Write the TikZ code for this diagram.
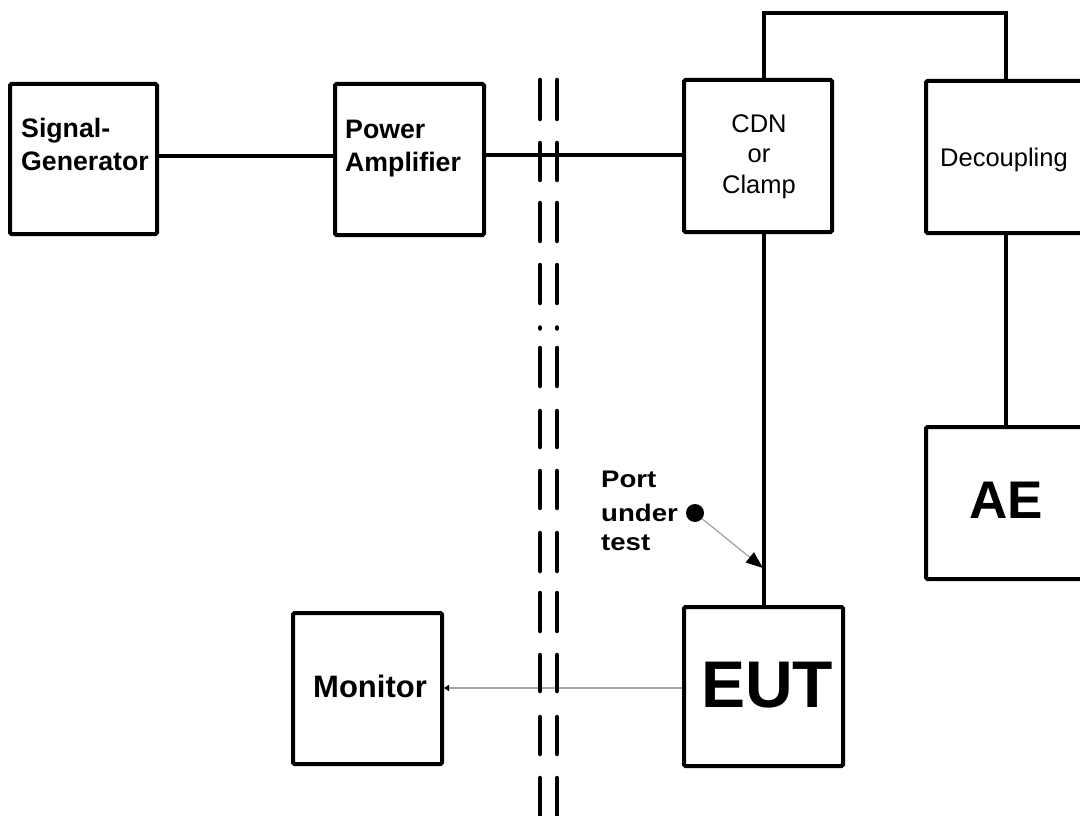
\documentclass[tikz,border=0pt]{standalone}
\usepackage{fontspec}
\setmainfont{Liberation Sans}
\newfontfamily\widesans[FakeStretch=1.15]{Liberation Sans}
\usetikzlibrary{arrows.meta,fit}
\begin{document}
\begin{tikzpicture}[x=1pt,y=-1pt,
  box/.style={draw, line width=4pt, rounded corners=1.5pt, inner sep=0pt},
  wire/.style={line width=4pt},
  thinline/.style={draw=black!35, line width=1.3pt},
  sep/.style={line width=4.5pt, line cap=round},
  bl/.style={font=\fontsize{26.7}{30}\selectfont\bfseries, inner sep=0pt},
  rg/.style={font=\fontsize{25.5}{30}\selectfont, inner sep=0pt},
  pl/.style={font=\widesans\fontsize{24}{28}\selectfont\bfseries, inner sep=0pt},
]
\useasboundingbox (0,0) rectangle (1080,816);
\clip (0,0) rectangle (1080,816);
\fill[white] (0,0) rectangle (1080,816);

% boxes
\node[box, fit={(10,84)(157,234)}] (sg) {};
\node[box, fit={(335,84)(484,235)}] (pa) {};
\node[box, fit={(684,80)(832,232)}] (cdn) {};
\node[box, fit={(926,81)(1086,233)}] (dec) {};
\node[box, fit={(926,427)(1086,579)}] (ae) {};
\node[box, fit={(684,607)(843,766)}] (eut) {};
\node[box, fit={(293,613)(442,764)}] (mon) {};

% labels
\node[bl, anchor=base west] (sg1) at (21,137) {Signal-};
\node[bl, anchor=base west] (sg2) at (21,170) {Generator};
\node[bl, anchor=base west] (pa1) at (345,139) {Power};
\node[bl, anchor=base west] (pa2) at (345,171) {Amplifier};
\node[rg, anchor=base] (cd1) at (759,132) {CDN};
\node[rg, anchor=base] (cd2) at (759,162) {or};
\node[rg, anchor=base] (cd3) at (759,193) {Clamp};
\node[rg, anchor=base] (decl) at (1004,166) {Decoupling};
\node[font=\fontsize{53}{60}\selectfont\bfseries, inner sep=0pt, anchor=base] (ael) at (1006,518) {AE};
\node[font=\fontsize{66}{70}\selectfont\bfseries, inner sep=0pt, anchor=base] (eutl) at (767,707) {EUT};
\node[font=\fontsize{31}{34}\selectfont\bfseries, inner sep=0pt, anchor=base] (monl) at (370,697) {Monitor};
\node[pl, anchor=base west] (pt1) at (601,487) {Port};
\node[pl, anchor=base west] (pt2) at (601,521) {under};
\node[pl, anchor=base west] (pt3) at (601,550) {test};

% connectors
\draw[wire] ([yshift=3pt]sg.east) -- ([yshift=3pt]sg.east -| pa.west);
\draw[wire] ([yshift=4.5pt]pa.east) -- ([yshift=4.5pt]pa.east -| cdn.west);
\draw[wire] (cdn.south -| eut.north) -- (eut.north);
\draw[wire] (cdn.north -| eut.north) -- ++(0,-65) -| (dec.north);
\draw[wire] (dec.south) -- (ae.north);

\node[circle, fill=black, minimum size=18pt, inner sep=0pt] (dot) at (695,513) {};
\coordinate (tip) at (763,568);
\draw[thinline, -{Triangle[length=17pt,width=13pt,color=black]}] (dot) -- (tip);
\draw[thinline, -{Triangle[length=5pt,width=6pt,color=black]}] ([yshift=-1.5pt]eut.west) -- ([yshift=-1.5pt]eut.west -| mon.east);

% separation (double dashed line)
\foreach \xx in {540,557} {
  \foreach \a/\b in {80/119,143/180,203/241,265/303,327.5/328.5,348/386,411/447,471/508,533/571,593/631,655/691,717/754,778/840} {
    \draw[sep] (\xx,\a) -- (\xx,\b);
  }
}
\end{tikzpicture}
\end{document}
